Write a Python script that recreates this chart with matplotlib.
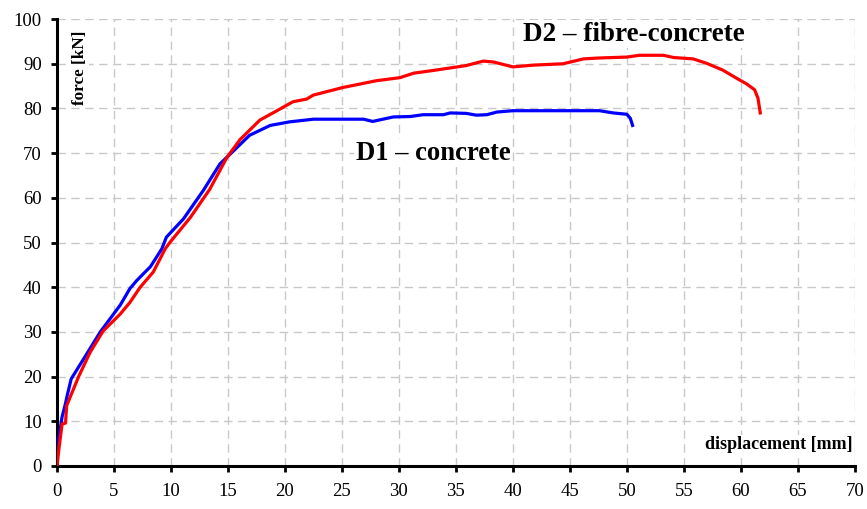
import matplotlib
matplotlib.use("Agg")
import matplotlib.pyplot as plt

# D1 - concrete (blue)
d1_disp = [0, 0.1, 0.45, 0.75, 0.9, 1.25, 2.35, 3.8, 5.55, 6.4, 7.0, 8.2, 9.2,
           9.6, 11.1, 12.85, 14.3, 15.2, 16.9, 18.7, 20.4, 22.5, 26.9, 27.7,
           29.5, 31.0, 32.1, 33.9, 34.5, 35.9, 36.8, 37.7, 38.6, 40.0, 47.6,
           48.8, 50.0, 50.3, 50.5]
d1_force = [0, 5.3, 11, 14, 15.8, 19.5, 24, 30, 36, 39.7, 41.5, 44.6, 48.6,
            51.2, 55.3, 61.7, 67.6, 69.8, 74, 76.2, 77, 77.6, 77.6, 77.1,
            78.1, 78.2, 78.6, 78.6, 79.0, 78.9, 78.5, 78.6, 79.2, 79.5, 79.5,
            79.0, 78.7, 77.8, 76.2]

# D2 - fibre-concrete (red)
d2_disp = [0, 0.2, 0.45, 0.75, 0.85, 1.9, 2.9, 4.05, 5.55, 6.4, 7.3, 8.45, 9.5,
           9.9, 11.7, 13.4, 14.9, 16.05, 17.8, 19.3, 20.7, 21.9, 22.5, 25.1,
           28.0, 30.1, 31.3, 33.0, 35.9, 37.4, 38.3, 40.0, 41.8, 44.4, 46.2,
           47.6, 50.0, 51.1, 53.2, 54.1, 55.8, 57.0, 58.4, 59.6, 60.5, 61.2,
           61.5, 61.7]
d2_force = [0, 4.4, 9.4, 9.6, 13.5, 20, 25.4, 30.2, 34, 36.6, 40, 43.4, 48.6,
            50, 55.6, 61.9, 69, 73, 77.4, 79.5, 81.5, 82.1, 83, 84.7,
            86.2, 86.9, 87.9, 88.5, 89.6, 90.6, 90.4, 89.3, 89.7, 90, 91.1,
            91.3, 91.5, 91.9, 91.9, 91.4, 91.1, 90.1, 88.6, 86.8, 85.5, 84.2,
            82.3, 79]

x_ticks = list(range(0, 71, 5))
y_ticks = list(range(0, 101, 10))

plt.rcParams['font.family'] = ['Liberation Serif', 'DejaVu Serif']

fig = plt.figure(figsize=(8.67, 5.09), dpi=100)
ax = fig.add_axes([0.0657, 0.0845, 0.9203, 0.878])

ax.plot(d1_disp, d1_force, color='#0000ff', lw=2.3, zorder=3)
ax.plot(d2_disp, d2_force, color='#ff0000', lw=2.3, zorder=3)

ax.set_xlim(0, 70)
ax.set_ylim(0, 100)
ax.set_xticks(x_ticks)
ax.set_yticks(y_ticks)
ax.grid(True, color='#c8c8c8', ls=(0, (6, 4)), lw=1)
ax.set_axisbelow(True)

for s in ['top', 'right']:
    ax.spines[s].set_visible(False)
for s in ['left', 'bottom']:
    ax.spines[s].set_linewidth(2.2)
ax.tick_params(direction='out', length=4, width=2, labelsize=13.5)
ax.tick_params(axis='x', pad=8)
ax.tick_params(axis='y', pad=7)

box = dict(facecolor='white', edgecolor='none', pad=1)
ax.text(40.9, 96.6, 'D2 \u2013 fibre-concrete', fontsize=19.5, fontweight='bold',
        ha='left', va='center', bbox=box, zorder=4)
ax.text(26.2, 70.0, 'D1 \u2013 concrete', fontsize=19.2, fontweight='bold',
        ha='left', va='center', bbox=box, zorder=4)
ax.text(2.0, 89.0, 'force [kN]', fontsize=12.3, fontweight='bold', rotation=90,
        ha='center', va='center', bbox=box, zorder=4)
ax.text(69.8, 4.8, 'displacement [mm]', fontsize=13, fontweight='bold',
        ha='right', va='center', bbox=box, zorder=4)

fig.savefig('out.png', dpi=100)
